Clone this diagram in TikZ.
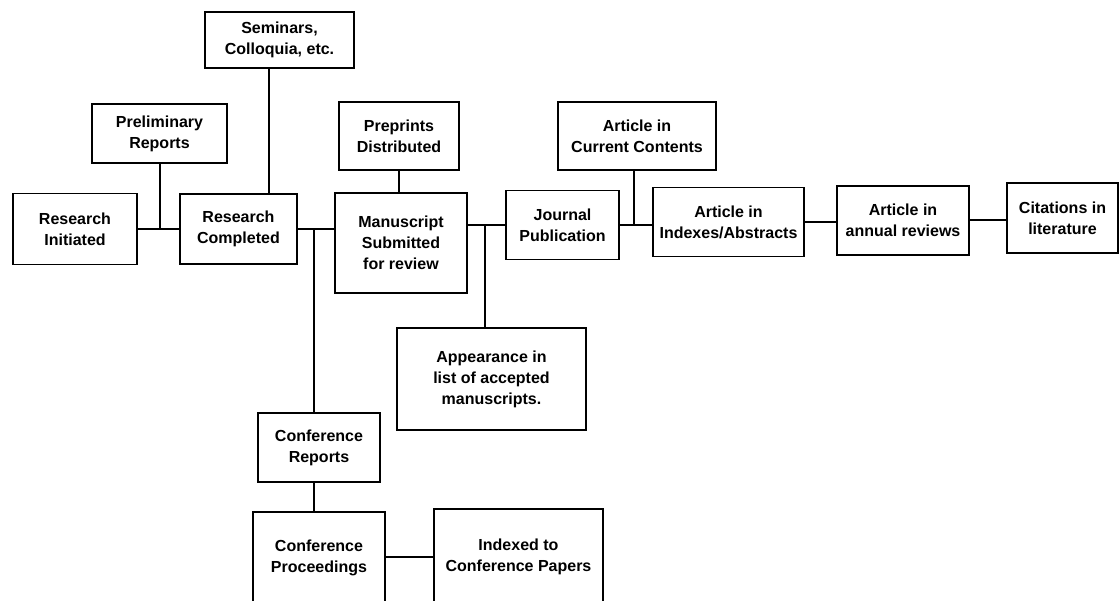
\documentclass[tikz,border=0pt]{standalone}
\usepackage{fontspec}
\setmainfont{Liberation Sans}
\usetikzlibrary{calc}
\tikzset{
  stage/.style  = {rectangle, draw, line width=1.5pt, align=center, inner sep=2pt,
                   font=\fontsize{16}{21}\selectfont\bfseries},
  link/.style   = {line width=2pt},
}

\begin{document}
\begin{tikzpicture}[x=1pt, y=-1pt]
  \useasboundingbox (0,0) rectangle (1120,601);
  % main line of the paper's life
  \node[stage, minimum width=124, minimum height=71] (ri) at (75,229)     {Research\\Initiated};
  \node[stage, minimum width=117, minimum height=70] (rc) at (238.5,229)  {Research\\Completed};
  \node[stage, minimum width=132, minimum height=100] (ms) at (401,243)   {Manuscript\\Submitted\\for review};
  \node[stage, minimum width=113, minimum height=69] (jp) at (562.5,225)  {Journal\\Publication};
  \node[stage, minimum width=151, minimum height=69] (ia) at (728.5,222)  {Article in\\Indexes/Abstracts};
  \node[stage, minimum width=132, minimum height=69] (ar) at (903,220.5)  {Article in\\annual reviews};
  \node[stage, minimum width=111, minimum height=70] (cl) at (1062.5,218) {Citations in\\literature};
  % side branches
  \node[stage, minimum width=149, minimum height=56] (sc) at (279.5,40)   {Seminars,\\Colloquia, etc.};
  \node[stage, minimum width=135, minimum height=59] (pr) at (159.5,133.5) {Preliminary\\Reports};
  \node[stage, minimum width=120, minimum height=68] (pp) at (399,136)    {Preprints\\Distributed};
  \node[stage, minimum width=158, minimum height=68] (cc) at (637,136)    {Article in\\Current Contents};
  \node[stage, minimum width=189, minimum height=102] (al) at (491.5,379) {Appearance in\\list of accepted\\manuscripts.};
  \node[stage, minimum width=122, minimum height=69] (cr) at (319,447.5)  {Conference\\Reports};
  \node[stage, minimum width=132, minimum height=92] (cp) at (319,558)    {Conference\\Proceedings};
  \node[stage, minimum width=169, minimum height=95] (ic) at (518.5,556.5) {Indexed to\\Conference Papers};

  \draw[link] (ri) -- (rc);
  \draw[link] (pr) -- (pr |- ri);
  \draw[link] ($(sc.south)+(-11,0)$) coordinate (s1) -- (s1 |- rc.north);
  \draw[link] (rc.east) -- (rc.east -| ms.west);
  \draw[link] ($(rc.east)+(16,0)$) coordinate (s2) -- (s2 |- cr.north);
  \draw[link] (cr.south -| s2) -- (cp.north -| s2);
  \draw[link] (cp.east |- ic) -- (ic.west);
  \draw[link] (pp.south) -- (pp.south |- ms.north);
  \draw[link] (jp.west -| ms.east) -- (jp.west);
  \draw[link] ($(jp.west -| ms.east)+(17,0)$) coordinate (s3) -- (s3 |- al.north);
  \draw[link] (jp.east) -- (jp.east -| ia.west);
  \draw[link] ($(cc.south)+(-3,0)$) coordinate (s4) -- (s4 |- jp.east);
  \draw[link] (ia.east) -- (ia.east -| ar.west);
  \draw[link] (ar.east) -- (ar.east -| cl.west);
\end{tikzpicture}
\end{document}
